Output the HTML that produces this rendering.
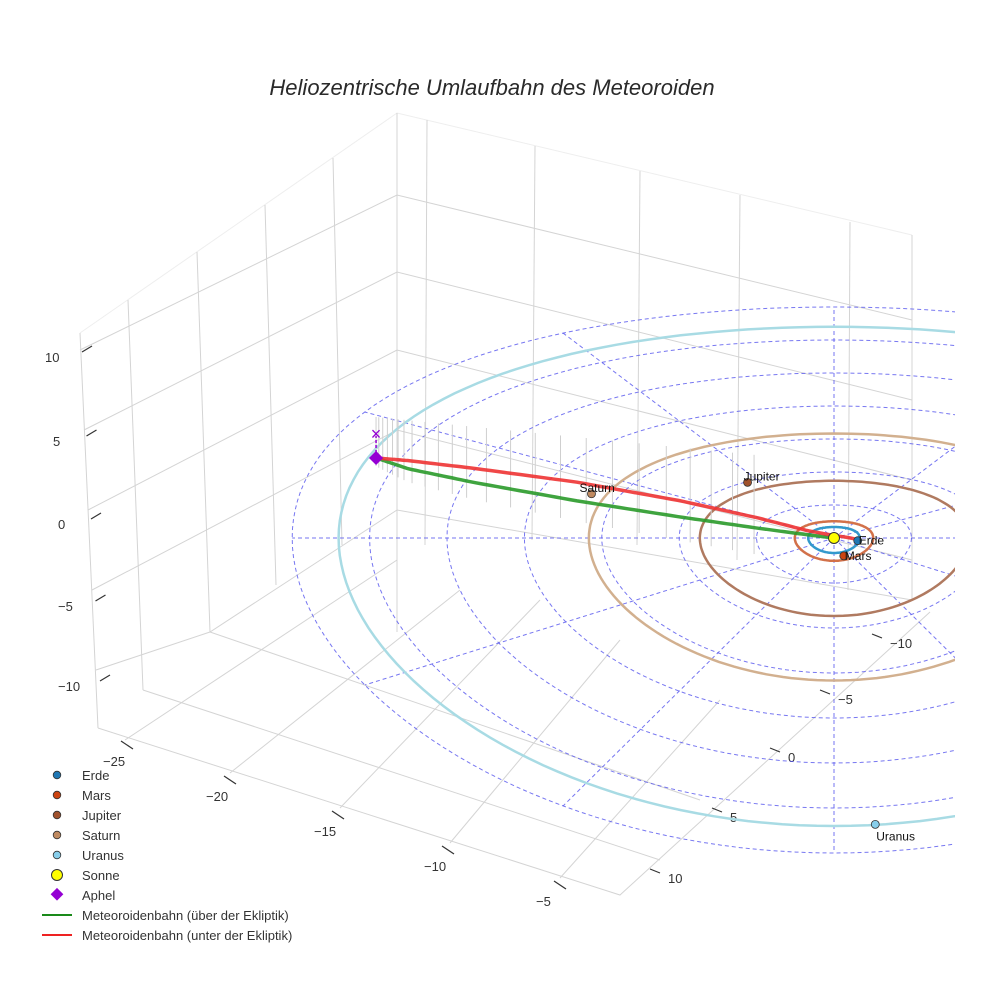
<!DOCTYPE html>
<html><head><meta charset="utf-8">
<style>
body{margin:0;background:#fff;}
svg{display:block;font-family:"Liberation Sans",sans-serif;}
</style></head>
<body>
<svg id="chart" width="984" height="984" viewBox="0 0 984 984">
<rect width="984" height="984" fill="#fff"/>
<text x="492" y="95" text-anchor="middle" font-size="22" font-style="italic" fill="#2a2a2a">Heliozentrische Umlaufbahn des Meteoroiden</text>
<g id="box" stroke="#d4d4d4" stroke-width="1" fill="none">
  <polyline points="80,333 397,113 912,235" stroke="#eee"/>
  <line x1="397" y1="113" x2="397" y2="632"/>
  <polyline points="80,350 397,195 912,320"/>
  <polyline points="84,430 397,272 912,400"/>
  <polyline points="88,510 397,350 912,480"/>
  <polyline points="92,590 397,430 912,560"/>
  <polyline points="96,670 210,632 397,510 912,600"/>
  <line x1="128" y1="300" x2="143" y2="690"/>
  <line x1="197" y1="252" x2="210" y2="632"/>
  <line x1="265" y1="205" x2="276" y2="585"/>
  <line x1="333" y1="158" x2="342" y2="545"/>
  <line x1="427" y1="120" x2="425" y2="545"/>
  <line x1="535" y1="146" x2="532" y2="540"/>
  <line x1="640" y1="171" x2="637" y2="545"/>
  <line x1="740" y1="195" x2="737" y2="560"/>
  <line x1="850" y1="222" x2="848" y2="590"/>
  <line x1="912" y1="235" x2="912" y2="600"/>
  <line x1="80" y1="333" x2="98" y2="728"/>
  <polyline points="98,728 620,895 930,612"/>
  <line x1="143" y1="690" x2="660" y2="860"/>
  <line x1="210" y1="632" x2="700" y2="800"/>
  <line x1="125" y1="740" x2="397" y2="560"/>
  <line x1="230" y1="773" x2="460" y2="590"/>
  <line x1="340" y1="808" x2="540" y2="600"/>
  <line x1="450" y1="843" x2="620" y2="640"/>
  <line x1="560" y1="878" x2="720" y2="700"/>
</g>
<g id="ticks" font-size="13" fill="#333"></g>
<g id="plane"></g>
<g id="orbits"></g>
<g id="meteor"></g>
<g id="planets"></g>
<g id="legend" font-size="13" fill="#333"></g>
</svg>
<script>
// ---- data ----
const gridRadii = [3,6,9,12,15,18,21];
const spokeAngles = [0,30,60,90,120,150,180,210,240,270,300,330];
const orbitNames = ["Erde","Mars","Jupiter","Saturn","Uranus"];
const orbitRadii = [1.0,1.52,5.2,9.5,19.2];
const orbitColors = ["#3399cc","#d2714a","#b07a60","#d2b08f","#a8dbe4"];
const planetX = [0.92,0.38,-3.35,-9.4,1.6];
const planetY = [0.2,1.2,-4.9,-3.6,19.1];
const planetColors = ["#1f77b4","#cc4411","#a0522d","#c08a60","#87ceeb"];
const greenX = [-17.75,-16.5,-14,-10,-6,-3,-1,0];
const greenY = [-6.5,-5.6,-4.5,-3.0,-1.7,-0.8,-0.25,0];
const redX = [-17.75,-16.5,-14,-10,-6,-3,-1,0.9];
const redY = [-6.5,-6.3,-5.7,-4.6,-3.1,-1.7,-0.6,0.1];
const zTicks = ["10","5","0","−5","−10"];
const xTicks = ["−25","−20","−15","−10","−5"];
const yTicks = ["−10","−5","0","5","10"];
const legendLabels = ["Erde","Mars","Jupiter","Saturn","Uranus","Sonne","Aphel","Meteoroidenbahn (über der Ekliptik)","Meteoroidenbahn (unter der Ekliptik)"];

// ---- projection ----
const CX=834, CY=538, SX=25.8;
function px(x,y){return CX+SX*x;}
function py(x,y){const r=Math.hypot(x,y);return CY+13*y+(r>0?2*y*y/r:0);}
const NS="http://www.w3.org/2000/svg";
function mk(tag,attrs,parent){const e=document.createElementNS(NS,tag);for(const k in attrs)e.setAttribute(k,attrs[k]);parent.appendChild(e);return e;}
function circlePath(r){let d="";for(let i=0;i<=180;i++){const t=i/180*2*Math.PI;const x=r*Math.cos(t),y=r*Math.sin(t);d+=(i?"L":"M")+px(x,y).toFixed(1)+","+py(x,y).toFixed(1);}return d;}
function linePath(xs,ys){let d="";const n=xs.length;for(let k=0;k<=100;k++){const f=k/100*(n-1);const i=Math.min(n-2,Math.floor(f));const u=f-i;const x=xs[i]+(xs[i+1]-xs[i])*u,y=ys[i]+(ys[i+1]-ys[i])*u;d+=(k?"L":"M")+px(x,y).toFixed(1)+","+py(x,y).toFixed(1);}return d;}

const defs=mk("defs",{},document.getElementById("chart"));
const cp=mk("clipPath",{id:"clipR"},defs);
mk("rect",{x:0,y:0,width:955,height:984},cp);

// ---- grid ----
const plane=document.getElementById("plane");
plane.setAttribute("clip-path","url(#clipR)");
gridRadii.forEach(r=>{
  const p=mk("path",{d:circlePath(r),fill:"none",stroke:"#5555ee","stroke-width":1,"stroke-dasharray":"4,3",opacity:0.8},plane);
  
  
});
spokeAngles.forEach(a=>{
  const t=a*Math.PI/180,R=21;
  const p=mk("line",{x1:px(0,0),y1:py(0,0),x2:px(R*Math.cos(t),R*Math.sin(t)),y2:py(R*Math.cos(t),R*Math.sin(t)),stroke:"#5555ee","stroke-width":1,"stroke-dasharray":"4,3",opacity:0.8},plane);
  
  
});

// ---- orbits ----
const orbits=document.getElementById("orbits");
orbits.setAttribute("clip-path","url(#clipR)");
orbitRadii.forEach((r,i)=>{
  const p=mk("path",{d:circlePath(r),fill:"none",stroke:orbitColors[i],"stroke-width":2.5},orbits);
  
  
});

// ---- meteoroid ----
const met=document.getElementById("meteor");
for(let k=0;k<24;k++){
  const f=Math.pow(k/24,1.3)*0.75;
  const n=greenX.length;const ff=f*(n-1);
  const i=Math.min(n-2,Math.floor(ff));const u=ff-i;
  const gx=greenX[i]+(greenX[i+1]-greenX[i])*u, gy=greenY[i]+(greenY[i+1]-greenY[i])*u;
  const x=px(gx,gy), y=py(gx,gy);
  const top=417+(x-376)*0.1;
  const l=mk("line",{x1:x,y1:y+8+k*0.8,x2:x,y2:top,stroke:"#cfcfcf","stroke-width":1},met);
  
  
}
const gp=mk("path",{d:linePath(greenX,greenY),fill:"none",stroke:"#2a9a2a","stroke-width":3.5,opacity:0.9},met);


const rp=mk("path",{d:linePath(redX,redY),fill:"none",stroke:"#ee3333","stroke-width":3.5,opacity:0.9},met);


const ax=px(greenX[0],greenY[0]), ay=py(greenX[0],greenY[0]);
const al=mk("line",{x1:ax,y1:ay,x2:ax,y2:ay-22,stroke:"#9400d3","stroke-width":1.5,"stroke-dasharray":"3,2"},met);


const xm=mk("text",{x:ax,y:ay-18,"text-anchor":"middle","font-size":18,fill:"#9400d3"},met);xm.textContent="×";


const dm=mk("rect",{x:ax-5,y:ay-5,width:10,height:10,fill:"#9400d3",transform:`rotate(45 ${ax} ${ay})`},met);



// ---- planets ----
const pl=document.getElementById("planets");
planetX.forEach((x,i)=>{
  const c=mk("circle",{cx:px(x,planetY[i]),cy:py(x,planetY[i]),r:4,fill:planetColors[i],stroke:"#333","stroke-width":0.8},pl);
  
  
  const up=(i==2||i==3);
  const t=mk("text",{x:px(x,planetY[i])+1,y:py(x,planetY[i])+(up?-2:(i==4?16:4)),"font-size":12,fill:"#111"},pl);
  if(up){t.setAttribute("x",px(x,planetY[i])-(i==3?12:4));}
  t.textContent=orbitNames[i];
  
  
});
const sun=mk("circle",{cx:CX,cy:CY,r:5.5,fill:"#ffff00",stroke:"#333","stroke-width":1},pl);



// ---- ticks ----
const tk=document.getElementById("ticks");
const zPos=[[45,362],[53,446],[58,529],[58,611],[58,691]];
zTicks.forEach((s,i)=>{const t=mk("text",{x:zPos[i][0],y:zPos[i][1]},tk);t.textContent=s;
  
  const bx=80+i*4.5,by=zPos[i][1]-14;
  mk("line",{x1:bx+2,y1:by+4,x2:bx+12,y2:by-2,stroke:"#333","stroke-width":1.2},tk);});
const xPos=[[103,766],[206,801],[314,836],[424,871],[536,906]];
xTicks.forEach((s,i)=>{const t=mk("text",{x:xPos[i][0],y:xPos[i][1]},tk);t.textContent=s;
  
  mk("line",{x1:xPos[i][0]+18,y1:xPos[i][1]-25,x2:xPos[i][0]+30,y2:xPos[i][1]-17,stroke:"#333","stroke-width":1.2},tk);});
const yPos=[[890,648],[838,704],[788,762],[730,822],[668,883]];
yTicks.forEach((s,i)=>{const t=mk("text",{x:yPos[i][0],y:yPos[i][1]},tk);t.textContent=s;
  
  mk("line",{x1:yPos[i][0]-18,y1:yPos[i][1]-14,x2:yPos[i][0]-8,y2:yPos[i][1]-10,stroke:"#333","stroke-width":1.2},tk);});

// ---- legend ----
const lg=document.getElementById("legend");
legendLabels.forEach((s,i)=>{
  const y=775+i*20;
  let m;
  if(i<5){m=mk("circle",{cx:57,cy:y,r:3.8,fill:planetColors[i],stroke:"#333","stroke-width":0.8},lg);}
  else if(i==5){m=mk("circle",{cx:57,cy:y,r:5.5,fill:"#ffff00",stroke:"#333","stroke-width":1},lg);}
  else if(i==6){m=mk("rect",{x:52,y:y-5,width:9,height:9,fill:"#9400d3",transform:`rotate(45 57 ${y})`},lg);}
  else {m=mk("line",{x1:42,y1:y,x2:72,y2:y,stroke:i==7?"#1a8a1a":"#ee2222","stroke-width":2},lg);}
  
  
  const t=mk("text",{x:82,y:y+5},lg);t.textContent=s;
  
  
});
</script>
</body></html>
